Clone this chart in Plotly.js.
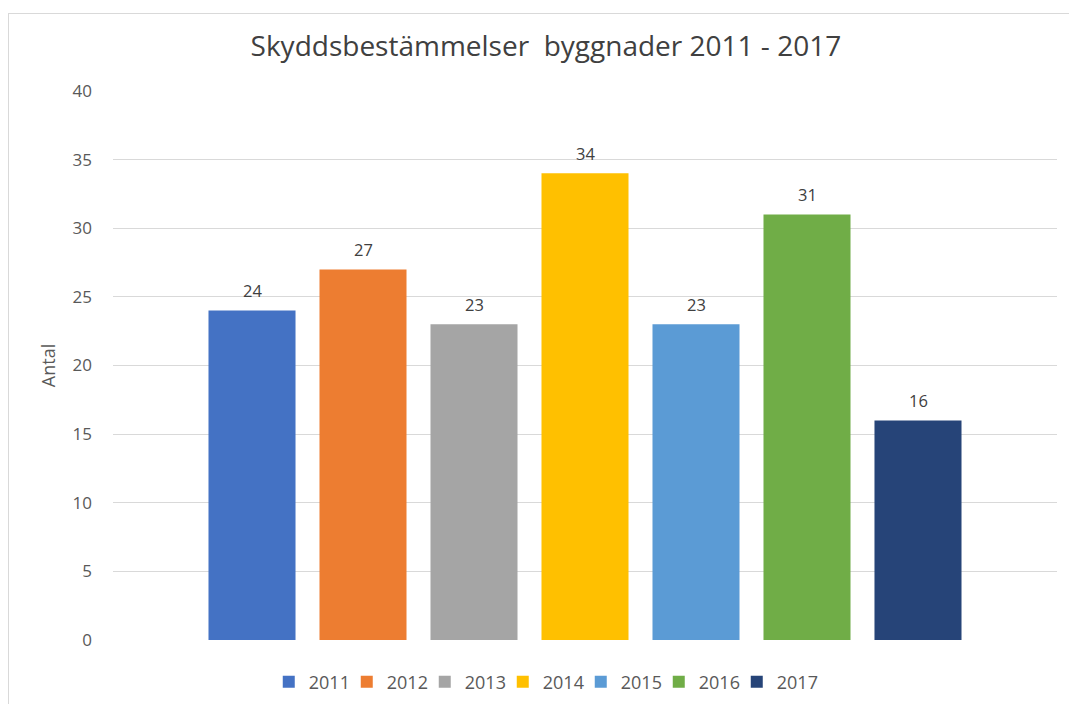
<!DOCTYPE html>
<html>
<head>
<meta charset="utf-8">
<script src="https://cdn.plot.ly/plotly-3.0.1.min.js"></script>
<style>
  html, body { margin: 0; padding: 0; background: #ffffff; }
  #chart { position: absolute; left: 8px; top: 13px; width: 1062px; height: 692px;
           border-left: 1px solid #d9d9d9; border-top: 1px solid #d9d9d9; box-sizing: border-box; }
</style>
</head>
<body>
<div id="chart"></div>
<script>
const years = ['2011', '2012', '2013', '2014', '2015', '2016', '2017'];
const values = [24, 27, 23, 34, 23, 31, 16];
const colors = ['#4472C4', '#ED7D31', '#A5A5A5', '#FFC000', '#5B9BD5', '#70AD47', '#264478'];
const yTicks = [0, 5, 10, 15, 20, 25, 30, 35, 40];

const FONT = 'Open Sans, Noto Sans, sans-serif';

const traces = years.map((yr, i) => ({
  type: 'bar',
  name: yr,
  x: [i],
  y: [values[i]],
  width: 0.784,
  marker: { color: colors[i] },
  legendwidth: i === years.length - 1 ? 55 : 33,
  hoverinfo: 'name+y'
}));

const annotations = years.map((yr, i) => ({
  x: i,
  y: values[i],
  xref: 'x',
  yref: 'y',
  text: String(values[i]),
  showarrow: false,
  yanchor: 'middle',
  yshift: 20,
  font: { family: FONT, size: 16.5, color: '#404040' }
}));

const layout = {
  width: 1061,
  height: 691,
  paper_bgcolor: '#ffffff',
  plot_bgcolor: '#ffffff',
  margin: { l: 104, r: 13, t: 77, b: 65, autoexpand: false },
  font: { family: FONT, color: '#595959' },
  title: {
    text: 'Skyddsbestämmelser  byggnader 2011 - 2017',
    font: { family: FONT, size: 28, color: '#404040' },
    x: 0.506, xref: 'container', xanchor: 'center',
    y: 1 - 32 / 691, yref: 'container', yanchor: 'middle'
  },
  barmode: 'overlay',
  xaxis: {
    range: [-1.2523, 7.2523],
    showticklabels: false,
    showgrid: false,
    zeroline: false,
    showline: false,
    ticks: '',
    fixedrange: true
  },
  yaxis: {
    range: [0, 40],
    tickvals: yTicks,
    ticktext: yTicks.map(String),
    showgrid: true,
    gridcolor: '#d9d9d9',
    gridwidth: 1,
    zeroline: false,
    showline: false,
    ticks: '',
    ticklabelstandoff: 20,
    tickfont: { family: FONT, size: 17, color: '#595959' },
    title: { text: 'Antal', font: { family: FONT, size: 18, color: '#595959' }, standoff: 12 },
    fixedrange: true
  },
  annotations: annotations,
  showlegend: true,
  legend: {
    orientation: 'h',
    x: 0.165, xanchor: 'left',
    y: -0.0765, yanchor: 'middle',
    font: { family: FONT, size: 18, color: '#595959' },
    itemwidth: 30,
    entrywidthmode: 'pixels',
    traceorder: 'normal'
  }
};

Plotly.newPlot('chart', traces, layout, { displayModeBar: false, staticPlot: true });
</script>
</body>
</html>
